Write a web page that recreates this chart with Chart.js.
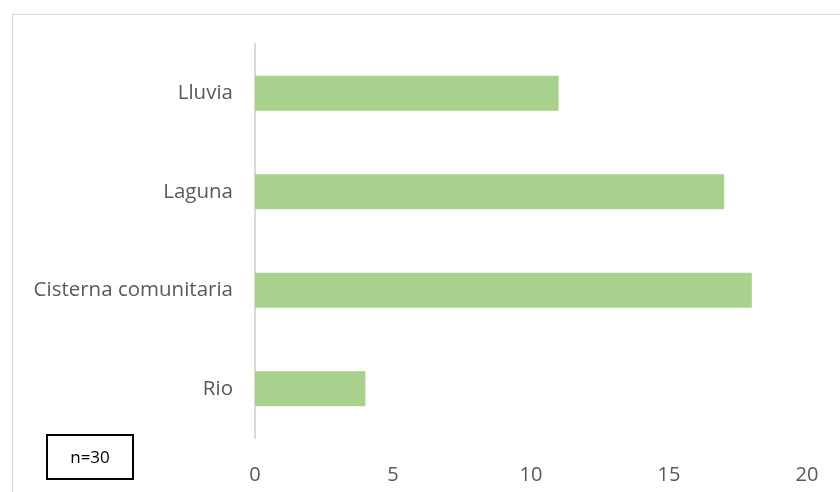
<!DOCTYPE html>
<html>
<head>
<meta charset="utf-8">
<script src="https://cdn.jsdelivr.net/npm/chart.js@4"></script>
<style>
  html, body { margin: 0; padding: 0; background: #fff; }
  #wrap { width: 840px; height: 492px; }
</style>
</head>
<body>
<div id="wrap"><canvas id="fuenteAguaChart"></canvas></div>
<script>
// Fuentes de agua
const categories = ['Lluvia', 'Laguna', 'Cisterna comunitaria', 'Rio'];
const counts = [11, 17, 18, 4];
const sampleLabel = 'n=30';

const fontFamily = "'Open Sans', 'Liberation Sans', sans-serif";

// frame around the chart plus the sample-size box
const framePlugin = {
    id: 'frame',
    afterDraw(chart) {
        const ctx = chart.ctx;
        ctx.save();
        ctx.strokeStyle = '#d9d9d9';
        ctx.lineWidth = 1;
        ctx.strokeRect(12.5, 14.5, 840, 500);

        ctx.strokeStyle = '#000';
        ctx.lineWidth = 2;
        ctx.strokeRect(47, 435, 86, 44);
        ctx.fillStyle = '#000';
        ctx.font = '17px ' + fontFamily;
        ctx.textAlign = 'center';
        ctx.textBaseline = 'middle';
        ctx.fillText(sampleLabel, 90, 458);
        ctx.restore();
    }
};

new Chart(document.getElementById('fuenteAguaChart'), {
    type: 'bar',
    data: {
        labels: categories,
        datasets: [{
            data: counts,
            backgroundColor: '#a9d18e',
            borderWidth: 0,
            categoryPercentage: 1,
            barPercentage: 0.355
        }]
    },
    options: {
        indexAxis: 'y',
        responsive: true,
        maintainAspectRatio: false,
        animation: false,
        layout: {
            padding: { top: 44, right: 33, left: 0, bottom: 0 }
        },
        plugins: {
            legend: { display: false },
            tooltip: { enabled: false }
        },
        scales: {
            x: {
                min: 0,
                max: 20,
                ticks: {
                    stepSize: 5,
                    color: '#595959',
                    padding: 25,
                    font: { family: fontFamily, size: 20 }
                },
                grid: { display: false, drawTicks: false },
                border: { display: false },
                afterFit(scale) {
                    scale.height = 54;
                    scale.paddingRight = 0;
                }
            },
            y: {
                ticks: {
                    color: '#595959',
                    padding: 22,
                    font: { family: fontFamily, size: 20.5 }
                },
                grid: { display: false, drawTicks: false },
                border: { display: true, color: '#d9d9d9', width: 2 },
                afterFit(scale) { scale.width = 255; }
            }
        }
    },
    plugins: [framePlugin]
});
</script>
</body>
</html>
